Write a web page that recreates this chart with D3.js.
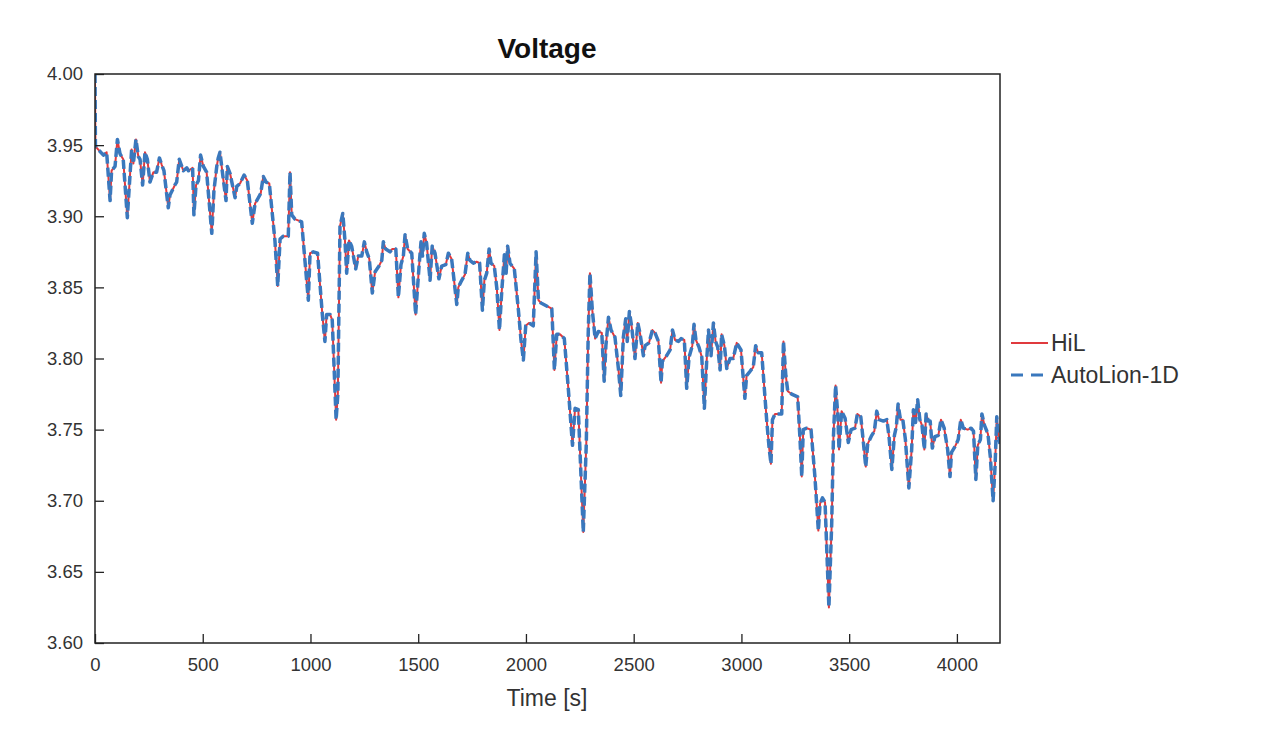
<!DOCTYPE html>
<html><head><meta charset="utf-8">
<script src="https://cdn.jsdelivr.net/npm/d3@7/dist/d3.min.js"></script>
<style>body{margin:0;background:#fff}svg{display:block}text{font-family:"Liberation Sans",Arial,sans-serif}</style>
</head><body><svg id="c" width="1269" height="755"></svg>
<script>
const timeS = [0,2,39,54,70,77,93,104,116,131,150,170,178,190,201,209,221,232,243,255,271,286,299,310,320,340,348,371,379,391,410,426,434,453,459,469,480,490,503,518,542,552,565,572,580,592,608,614,627,650,658,673,692,707,730,743,758,769,781,794,809,835,848,859,874,897,905,913,928,959,990,998,1013,1033,1055,1067,1075,1091,1101,1119,1127,1137,1150,1160,1168,1179,1191,1210,1222,1238,1250,1261,1273,1287,1300,1318,1331,1338,1349,1369,1380,1396,1408,1420,1431,1439,1451,1470,1488,1504,1513,1520,1528,1539,1555,1565,1578,1596,1609,1628,1640,1655,1679,1686,1702,1717,1730,1740,1756,1771,1785,1798,1807,1818,1829,1838,1853,1865,1877,1888,1900,1908,1915,1926,1946,1965,1977,1988,1999,2014,2034,2047,2058,2070,2120,2132,2143,2158,2178,2197,2216,2228,2243,2266,2280,2289,2297,2308,2321,2336,2352,2363,2371,2383,2395,2413,2429,2440,2452,2463,2470,2480,2491,2506,2519,2529,2545,2553,2571,2587,2599,2615,2627,2633,2653,2669,2680,2692,2708,2720,2735,2746,2757,2772,2780,2789,2803,2816,2828,2839,2847,2859,2870,2880,2890,2901,2908,2921,2932,2947,2962,2978,2998,3016,3024,3040,3055,3066,3078,3094,3117,3128,3137,3144,3156,3187,3195,3206,3215,3233,3261,3272,3280,3287,3303,3323,3341,3357,3365,3376,3388,3406,3419,3427,3437,3447,3453,3465,3481,3496,3509,3527,3538,3554,3566,3577,3586,3605,3617,3628,3639,3659,3675,3685,3698,3710,3719,3727,3738,3749,3761,3777,3790,3798,3808,3818,3828,3838,3849,3857,3868,3876,3886,3898,3914,3926,3941,3957,3968,3975,3991,4006,4018,4030,4050,4066,4077,4088,4097,4109,4116,4128,4144,4155,4168,4177,4185,4193,4200];

const hilVoltage = [4.000,3.949,3.943,3.945,3.911,3.932,3.935,3.954,3.944,3.940,3.899,3.947,3.937,3.954,3.942,3.940,3.922,3.945,3.940,3.924,3.931,3.931,3.941,3.936,3.932,3.906,3.915,3.922,3.924,3.940,3.932,3.934,3.932,3.934,3.901,3.922,3.925,3.943,3.935,3.931,3.888,3.918,3.935,3.941,3.945,3.930,3.911,3.935,3.930,3.913,3.921,3.923,3.929,3.925,3.895,3.909,3.913,3.916,3.928,3.924,3.923,3.883,3.851,3.884,3.886,3.886,3.931,3.901,3.898,3.896,3.841,3.874,3.875,3.874,3.831,3.812,3.831,3.831,3.827,3.757,3.775,3.893,3.902,3.883,3.860,3.883,3.879,3.863,3.872,3.872,3.882,3.875,3.870,3.846,3.861,3.865,3.869,3.882,3.877,3.875,3.877,3.877,3.843,3.866,3.872,3.887,3.877,3.874,3.831,3.865,3.882,3.872,3.888,3.881,3.855,3.879,3.874,3.856,3.865,3.866,3.874,3.870,3.838,3.850,3.855,3.859,3.874,3.869,3.867,3.868,3.867,3.834,3.855,3.860,3.877,3.867,3.865,3.849,3.820,3.848,3.873,3.860,3.879,3.867,3.863,3.834,3.813,3.799,3.823,3.825,3.823,3.875,3.841,3.839,3.835,3.792,3.817,3.817,3.814,3.778,3.739,3.765,3.764,3.678,3.740,3.818,3.860,3.834,3.814,3.819,3.818,3.784,3.809,3.829,3.820,3.815,3.793,3.774,3.815,3.828,3.812,3.833,3.822,3.800,3.825,3.818,3.802,3.809,3.811,3.820,3.818,3.812,3.783,3.798,3.802,3.806,3.820,3.813,3.812,3.814,3.813,3.779,3.801,3.809,3.824,3.813,3.808,3.801,3.765,3.799,3.820,3.802,3.825,3.812,3.808,3.792,3.817,3.809,3.793,3.800,3.800,3.811,3.806,3.772,3.788,3.791,3.794,3.809,3.804,3.804,3.757,3.738,3.726,3.757,3.761,3.761,3.812,3.788,3.777,3.775,3.773,3.743,3.717,3.750,3.751,3.750,3.717,3.679,3.698,3.702,3.699,3.625,3.684,3.745,3.781,3.761,3.736,3.763,3.758,3.741,3.750,3.751,3.761,3.759,3.741,3.724,3.740,3.746,3.749,3.763,3.757,3.756,3.757,3.745,3.722,3.746,3.752,3.768,3.757,3.757,3.743,3.709,3.736,3.764,3.755,3.771,3.757,3.753,3.736,3.761,3.756,3.756,3.737,3.745,3.746,3.757,3.751,3.736,3.717,3.734,3.738,3.743,3.757,3.751,3.750,3.751,3.749,3.715,3.739,3.743,3.761,3.753,3.747,3.731,3.700,3.724,3.759,3.745,3.740];

// AutoLion-1D overlays HiL exactly in the picture (values read identical)
const autolionVoltage = [4.000,3.949,3.943,3.945,3.911,3.932,3.935,3.954,3.944,3.940,3.899,3.947,3.937,3.954,3.942,3.940,3.922,3.945,3.940,3.924,3.931,3.931,3.941,3.936,3.932,3.906,3.915,3.922,3.924,3.940,3.932,3.934,3.932,3.934,3.901,3.922,3.925,3.943,3.935,3.931,3.888,3.918,3.935,3.941,3.945,3.930,3.911,3.935,3.930,3.913,3.921,3.923,3.929,3.925,3.895,3.909,3.913,3.916,3.928,3.924,3.923,3.883,3.851,3.884,3.886,3.886,3.931,3.901,3.898,3.896,3.841,3.874,3.875,3.874,3.831,3.812,3.831,3.831,3.827,3.757,3.775,3.893,3.902,3.883,3.860,3.883,3.879,3.863,3.872,3.872,3.882,3.875,3.870,3.846,3.861,3.865,3.869,3.882,3.877,3.875,3.877,3.877,3.843,3.866,3.872,3.887,3.877,3.874,3.831,3.865,3.882,3.872,3.888,3.881,3.855,3.879,3.874,3.856,3.865,3.866,3.874,3.870,3.838,3.850,3.855,3.859,3.874,3.869,3.867,3.868,3.867,3.834,3.855,3.860,3.877,3.867,3.865,3.849,3.820,3.848,3.873,3.860,3.879,3.867,3.863,3.834,3.813,3.799,3.823,3.825,3.823,3.875,3.841,3.839,3.835,3.792,3.817,3.817,3.814,3.778,3.739,3.765,3.764,3.678,3.740,3.818,3.860,3.834,3.814,3.819,3.818,3.784,3.809,3.829,3.820,3.815,3.793,3.774,3.815,3.828,3.812,3.833,3.822,3.800,3.825,3.818,3.802,3.809,3.811,3.820,3.818,3.812,3.783,3.798,3.802,3.806,3.820,3.813,3.812,3.814,3.813,3.779,3.801,3.809,3.824,3.813,3.808,3.801,3.765,3.799,3.820,3.802,3.825,3.812,3.808,3.792,3.817,3.809,3.793,3.800,3.800,3.811,3.806,3.772,3.788,3.791,3.794,3.809,3.804,3.804,3.757,3.738,3.726,3.757,3.761,3.761,3.812,3.788,3.777,3.775,3.773,3.743,3.717,3.750,3.751,3.750,3.717,3.679,3.698,3.702,3.699,3.625,3.684,3.745,3.781,3.761,3.736,3.763,3.758,3.741,3.750,3.751,3.761,3.759,3.741,3.724,3.740,3.746,3.749,3.763,3.757,3.756,3.757,3.745,3.722,3.746,3.752,3.768,3.757,3.757,3.743,3.709,3.736,3.764,3.755,3.771,3.757,3.753,3.736,3.761,3.756,3.756,3.737,3.745,3.746,3.757,3.751,3.736,3.717,3.734,3.738,3.743,3.757,3.751,3.750,3.751,3.749,3.715,3.739,3.743,3.761,3.753,3.747,3.731,3.700,3.724,3.759,3.745,3.740];

const xTicks = [0,500,1000,1500,2000,2500,3000,3500,4000];
const yTicks = [3.60,3.65,3.70,3.75,3.80,3.85,3.90,3.95,4.00];
const seriesNames = ["HiL","AutoLion-1D"];

const svg = d3.select("#c");
const L = 95, R = 1000, T = 74, B = 643;
const x = d3.scaleLinear().domain([0,4200]).range([L,R]);
const y = d3.scaleLinear().domain([3.60,4.00]).range([B,T]);

const red = "#e03a3e", blue = "#3a78bd";

const line = d3.line().x(d => x(d[0])).y(d => y(d[1]));
const hil = timeS.map((t,i) => [t, hilVoltage[i]]);
const auto = timeS.map((t,i) => [t, autolionVoltage[i]]);

svg.append("clipPath").attr("id","pc").append("rect")
  .attr("x",L).attr("y",T-2).attr("width",R-L).attr("height",B-T+4);

const g = svg.append("g").attr("clip-path","url(#pc)");
g.append("path").datum(hil).attr("d",line).attr("fill","none")
  .attr("stroke",red).attr("stroke-width",2).attr("stroke-linejoin","round");
g.append("path").datum(auto).attr("d",line).attr("fill","none")
  .attr("stroke",blue).attr("stroke-width",3.5).attr("stroke-dasharray","9,4")
  .attr("stroke-linejoin","round");

// axes
const xAxis = svg.append("g").attr("transform",`translate(0,${B})`)
  .call(d3.axisBottom(x).tickValues(xTicks).tickSizeInner(-9).tickSizeOuter(0).tickPadding(15).tickFormat(d3.format("d")));
const yAxis = svg.append("g").attr("transform",`translate(${L},0)`)
  .call(d3.axisLeft(y).tickValues(yTicks).tickSizeInner(-9).tickSizeOuter(0).tickPadding(12).tickFormat(d3.format(".2f")));
[xAxis,yAxis].forEach(a => {
  a.select(".domain").remove();
  a.selectAll(".tick line").attr("stroke","#222").attr("stroke-width",1.3);
  a.selectAll(".tick text").attr("fill","#333").style("font-size","18.5px");
});

// frame
svg.append("rect").attr("x",L).attr("y",T).attr("width",R-L).attr("height",B-T)
  .attr("fill","none").attr("stroke","#222").attr("stroke-width",1.5);

// labels
svg.append("text").attr("x",547).attr("y",58).attr("text-anchor","middle")
  .attr("fill","#111").style("font-size","28px").style("font-weight","bold").text("Voltage");
svg.append("text").attr("x",547).attr("y",706).attr("text-anchor","middle")
  .attr("fill","#333").style("font-size","23px").text("Time [s]");

// legend
const leg = svg.append("g");
leg.append("line").attr("x1",1011).attr("x2",1048).attr("y1",343).attr("y2",343)
  .attr("stroke",red).attr("stroke-width",2);
leg.append("line").attr("x1",1011).attr("x2",1048).attr("y1",375).attr("y2",375)
  .attr("stroke",blue).attr("stroke-width",3).attr("stroke-dasharray","12,8");
leg.selectAll("text.l").data(seriesNames).enter().append("text")
  .attr("x",1051).attr("y",(d,i)=>351+i*32).attr("fill","#333")
  .style("font-size","23px").text(d=>d);
</script></body></html>
